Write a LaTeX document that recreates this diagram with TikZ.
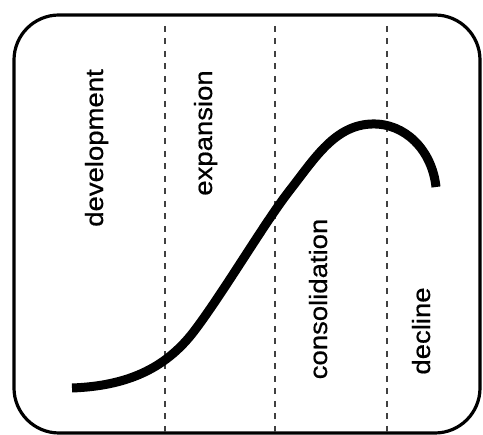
\documentclass[tikz,border=0pt]{standalone}
\usepackage{fontspec}
\setmainfont{Liberation Sans}
\newfontfamily\phasefont[FakeBold=0.6]{Liberation Sans}
\usepackage{graphicx}
\begin{document}
\begin{tikzpicture}[x=1pt,y=-1pt,
  phase/.style={rotate=90,anchor=base,inner sep=0pt,font=\phasefont\fontsize{25}{30}\selectfont},
  divider/.style={draw=black!75,line width=1.3pt,dash pattern=on 6pt off 6.5pt},
  frame/.style={draw=black,line width=3.2pt,rounded corners=45pt},
  lifecurve/.style={draw=black,line width=9pt}]
\useasboundingbox (0,0) rectangle (483,435);
\draw[frame] (14,15) rectangle (480,433);
\coordinate (d1t) at (165,26); \coordinate (d1b) at (165,433);
\coordinate (d2t) at (275,26); \coordinate (d2b) at (275,433);
\coordinate (d3t) at (387,26); \coordinate (d3b) at (387,433);
\draw[divider] (d1t) -- (d1b);
\draw[divider] (d2t) -- (d2b);
\draw[divider] (d3t) -- (d3b);
\node[phase] (dev) at (103,148) {\scalebox{1.1}[1]{development}};
\node[phase] (exp) at (212,133) {\scalebox{1.1}[1]{expansion}};
\node[phase] (con) at (327,299) {\scalebox{1.1}[1]{consolidation}};
\node[phase] (dec) at (430,331) {\scalebox{1.1}[1]{decline}};
\draw[lifecurve] (72,388) .. controls (125,386) and (165,370) .. (195,330)
  .. controls (225,290) and (265,222) .. (290,190)
  .. controls (315,158) and (335,125) .. (372,124)
  .. controls (405,123) and (432,150) .. (436,187);
\end{tikzpicture}
\end{document}
